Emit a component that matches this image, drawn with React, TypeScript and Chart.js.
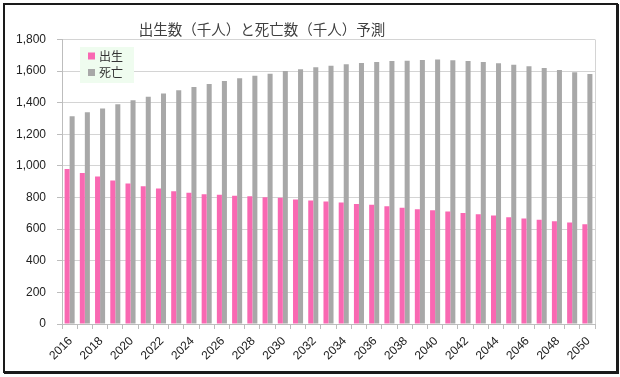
import React, { useEffect, useRef } from "react";
import { Chart, registerables } from "chart.js";

Chart.register(...registerables);

const TITLE = "出生数（千人）と死亡数（千人）予測";

const years = [
  "2016", "2017", "2018", "2019", "2020", "2021", "2022", "2023", "2024", "2025",
  "2026", "2027", "2028", "2029", "2030", "2031", "2032", "2033", "2034", "2035",
  "2036", "2037", "2038", "2039", "2040", "2041", "2042", "2043", "2044", "2045",
  "2046", "2047", "2048", "2049", "2050",
];

const birthLabel = "出生";
const deathLabel = "死亡";

const births = [
  980, 956, 934, 908, 889, 872, 857, 840, 830, 821,
  817, 811, 809, 802, 798, 788, 781, 775, 769, 760,
  754, 745, 735, 726, 720, 712, 703, 695, 686, 676,
  667, 659, 650, 642, 631,
];

const deaths = [
  1314, 1339, 1364, 1390, 1415, 1438, 1459, 1479, 1500, 1519,
  1538, 1555, 1571, 1584, 1601, 1612, 1624, 1634, 1643, 1652,
  1658, 1664, 1666, 1671, 1673, 1669, 1664, 1658, 1650, 1641,
  1631, 1620, 1607, 1593, 1582,
];

const Y_MIN = 0;
const Y_MAX = 1800;
const Y_STEP = 200;

const PINK = "#f968b2";
const GRAY = "#a8a8a8";
const GRID = "#d4d4d4";
const AXIS = "#bdbdbd";
const NUM_FONT = "'Liberation Sans', Arial, sans-serif";
const JP_FONT = "'Noto Sans CJK JP', 'Noto Sans', sans-serif";

const rightBorderPlugin = {
  id: "rightBorder",
  beforeDatasetsDraw(chart: any) {
    const { ctx, chartArea: a } = chart;
    ctx.save();
    ctx.strokeStyle = GRID;
    ctx.lineWidth = 1;
    ctx.beginPath();
    const x = Math.round(a.right) + 0.5;
    ctx.moveTo(x, a.top);
    ctx.lineTo(x, a.bottom);
    ctx.stroke();
    ctx.restore();
  },
};

const titlePlugin = {
  id: "customTitle",
  afterDraw(chart: any) {
    const { ctx } = chart;
    ctx.save();
    ctx.font = `14.5px ${JP_FONT}`;
    ctx.fillStyle = "#404040";
    ctx.textAlign = "center";
    ctx.textBaseline = "middle";
    ctx.fillText(TITLE, 262, 29);
    ctx.restore();
  },
};

const legendPlugin = {
  id: "insideLegend",
  afterDraw(chart: any) {
    const { ctx } = chart;
    const ds = chart.data.datasets;
    ctx.save();
    ctx.fillStyle = "#effcef";
    ctx.fillRect(80, 47, 54, 36);
    ctx.font = `12px ${JP_FONT}`;
    ctx.textAlign = "left";
    ctx.textBaseline = "middle";
    ds.forEach((d: any, i: number) => {
      const cy = 56 + i * 16.5;
      ctx.fillStyle = d.backgroundColor;
      ctx.fillRect(88, cy - 3.5, 7, 7);
      ctx.fillStyle = "#333333";
      ctx.fillText(d.label, 99, cy);
    });
    ctx.restore();
  },
};

export default function App() {
  const ref = useRef<HTMLCanvasElement | null>(null);

  useEffect(() => {
    if (!ref.current) return;
    const chart = new Chart(ref.current, {
      type: "bar",
      data: {
        labels: years,
        datasets: [
          {
            label: birthLabel,
            data: births,
            backgroundColor: PINK,
            borderWidth: 0,
            categoryPercentage: 0.66,
            barPercentage: 1.0,
          },
          {
            label: deathLabel,
            data: deaths,
            backgroundColor: GRAY,
            borderWidth: 0,
            categoryPercentage: 0.66,
            barPercentage: 1.0,
          },
        ],
      },
      options: {
        responsive: false,
        animation: false,
        layout: { padding: { left: 0, top: 39.5, right: 25, bottom: 0 } },
        plugins: {
          legend: { display: false },
          title: { display: false },
          tooltip: { enabled: false },
        },
        scales: {
          x: {
            offset: true,
            grid: {
              offset: true,
              drawOnChartArea: false,
              drawTicks: true,
              tickLength: 5,
              color: AXIS,
            },
            border: { display: true, color: AXIS },
            ticks: {
              autoSkip: false,
              maxRotation: 45,
              minRotation: 45,
              padding: 5,
              labelOffset: 1,
              color: "#222222",
              font: { family: NUM_FONT, size: 12 },
              callback: (_v: any, i: number) => (i % 2 === 0 ? years[i] : ""),
            },
            afterFit: (s: any) => {
              s.height = 377 - 324;
            },
          },
          y: {
            min: Y_MIN,
            max: Y_MAX,
            grid: { color: GRID, tickLength: 5, tickColor: AXIS },
            border: { display: true, color: AXIS },
            ticks: {
              stepSize: Y_STEP,
              padding: 11,
              color: "#222222",
              font: { family: NUM_FONT, size: 12 },
              callback: (v: any) => Number(v).toLocaleString("en-US"),
            },
            afterFit: (s: any) => {
              s.width = 62;
            },
          },
        },
      },
      plugins: [rightBorderPlugin, titlePlugin, legendPlugin],
    });
    return () => chart.destroy();
  }, []);

  return (
    <div
      style={{
        position: "absolute",
        left: 0,
        top: 0,
        width: 620,
        height: 377,
        background: "#ffffff",
        overflow: "hidden",
      }}
    >
      <canvas
        ref={ref}
        width={620}
        height={377}
        style={{ position: "absolute", left: 0, top: 0, width: 620, height: 377 }}
      />
      <div
        style={{
          position: "absolute",
          left: 3,
          top: 3,
          width: 611,
          height: 366,
          border: "2px solid #1a1a1a",
          boxShadow: "1px 1px 0 #1a1a1a",
          pointerEvents: "none",
        }}
      />
    </div>
  );
}
